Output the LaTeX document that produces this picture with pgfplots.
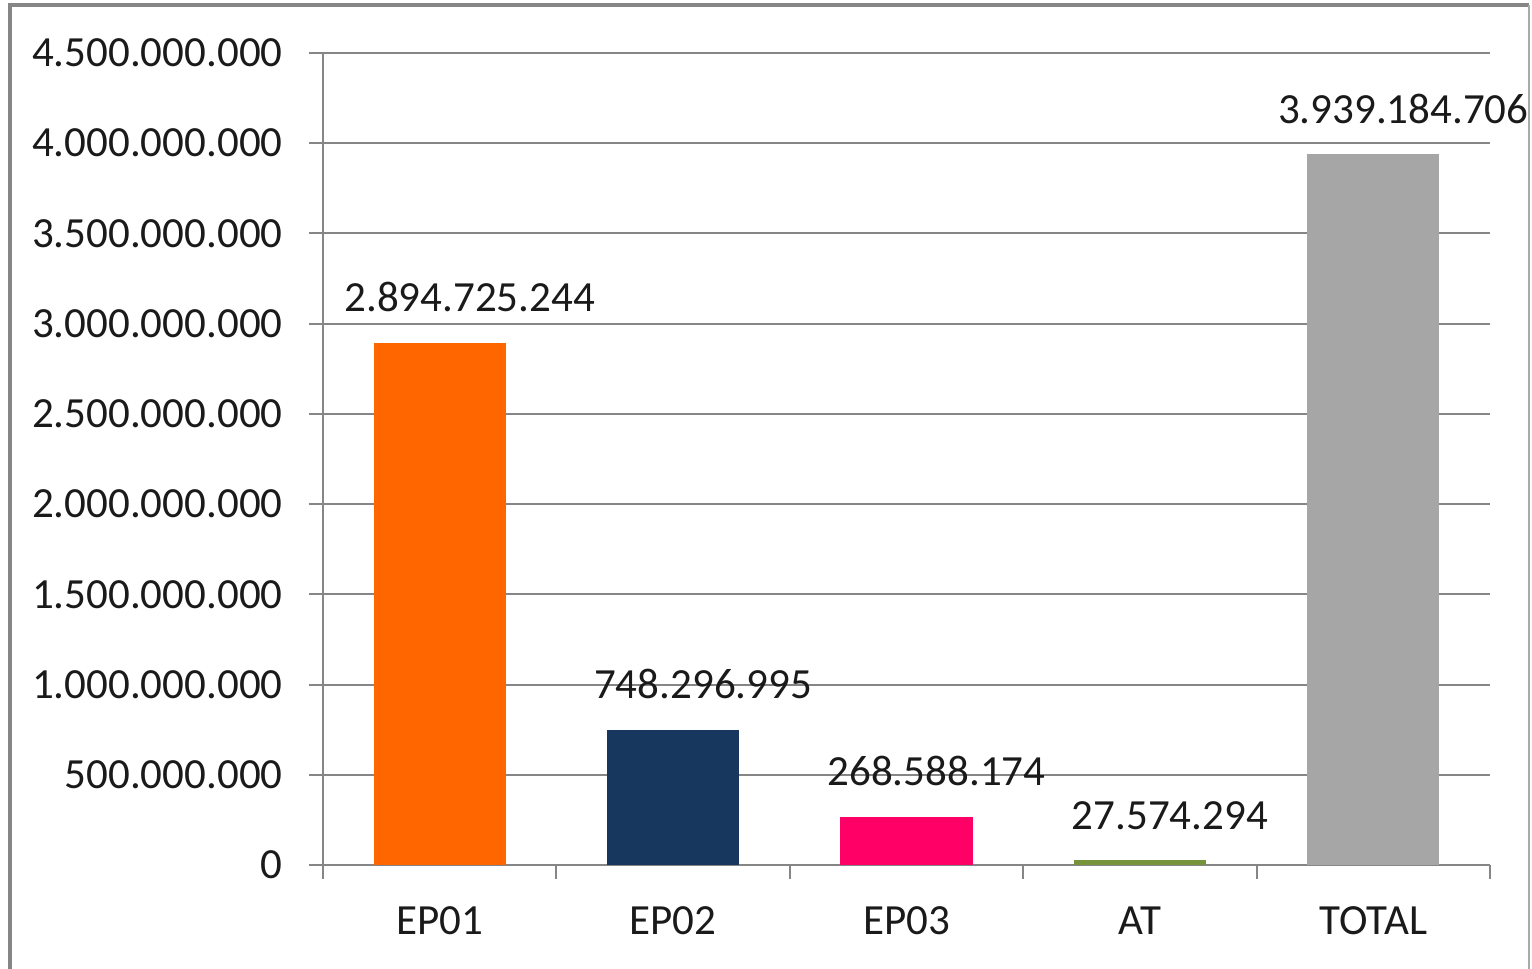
\documentclass[border=0pt]{standalone}
\usepackage{pgfplots}
\pgfplotsset{compat=1.18}
\usepackage{fontspec}
\setmainfont{Carlito}
\definecolor{ep01}{HTML}{FF6600}
\definecolor{ep02}{HTML}{17375E}
\definecolor{ep03}{HTML}{FF0066}
\definecolor{atc}{HTML}{77933C}
\definecolor{totc}{HTML}{A6A6A6}
\definecolor{gridc}{HTML}{868686}
\definecolor{txt}{HTML}{1A1A1A}
\begin{document}
\begin{tikzpicture}
\useasboundingbox (0pt,0pt) rectangle (766pt,484.5pt);
% frame of the chart area
\draw[color=gridc, line width=2pt] (5pt,-5pt) -- (5pt,482pt) -- (764.5pt,482pt);
\draw[color=gridc!70, line width=1pt] (764.5pt,482pt) -- (764.5pt,-5pt);
\begin{axis}[
    at={(161.5pt,52pt)}, anchor=south west,
    scale only axis,
    width=583.5pt, height=406pt,
    xmin=-0.5, xmax=4.5,
    ymin=0, ymax=4500000000,
    axis lines=left,
    axis line style={-, draw=gridc, line width=1pt},
    tick align=outside,
    font=\fontsize{21.5}{25}\selectfont,
    every tick label/.append style={text=txt},
    ytick={0,500000000,1000000000,1500000000,2000000000,2500000000,3000000000,3500000000,4000000000,4500000000},
    yticklabels={0,500.000.000,1.000.000.000,1.500.000.000,2.000.000.000,2.500.000.000,3.000.000.000,3.500.000.000,4.000.000.000,4.500.000.000},
    yticklabel style={anchor=east, inner sep=0pt, xshift=-13pt},
    ymajorgrids,
    major grid style={draw=gridc, line width=1pt},
    major tick length=7pt,
    ytick style={draw=gridc, line width=1pt},
    xtick={0,1,2,3,4},
    xticklabels={EP01,EP02,EP03,AT,TOTAL},
    xtick style={draw=none},
    xticklabel style={anchor=base, inner sep=0pt, yshift=-28pt},
    extra x ticks={-0.5,0.5,1.5,2.5,3.5,4.5},
    extra x tick labels={},
    extra x tick style={
        xtick style={draw=gridc, line width=1pt},
        major tick length=7pt,
        grid=none
    },
    scaled y ticks=false,
    ybar, bar width=66pt, bar shift=0pt,
    point meta=explicit symbolic,
    nodes near coords,
    every node near coord/.append style={anchor=base, inner sep=0pt,
        xshift=15pt, yshift=15.5pt, text=txt,
        font=\fontsize{21.5}{25}\selectfont},
    clip=false,
]
\addplot[draw=none, fill=ep01] coordinates {(0,2894725244) [2.894.725.244]};
\addplot[draw=none, fill=ep02] coordinates {(1,748296995) [748.296.995]};
\addplot[draw=none, fill=ep03] coordinates {(2,268588174) [268.588.174]};
\addplot[draw=none, fill=atc] coordinates {(3,27574294) [27.574.294]};
\addplot[draw=none, fill=totc] coordinates {(4,3939184706) [3.939.184.706]};
\end{axis}
\end{tikzpicture}
\end{document}
